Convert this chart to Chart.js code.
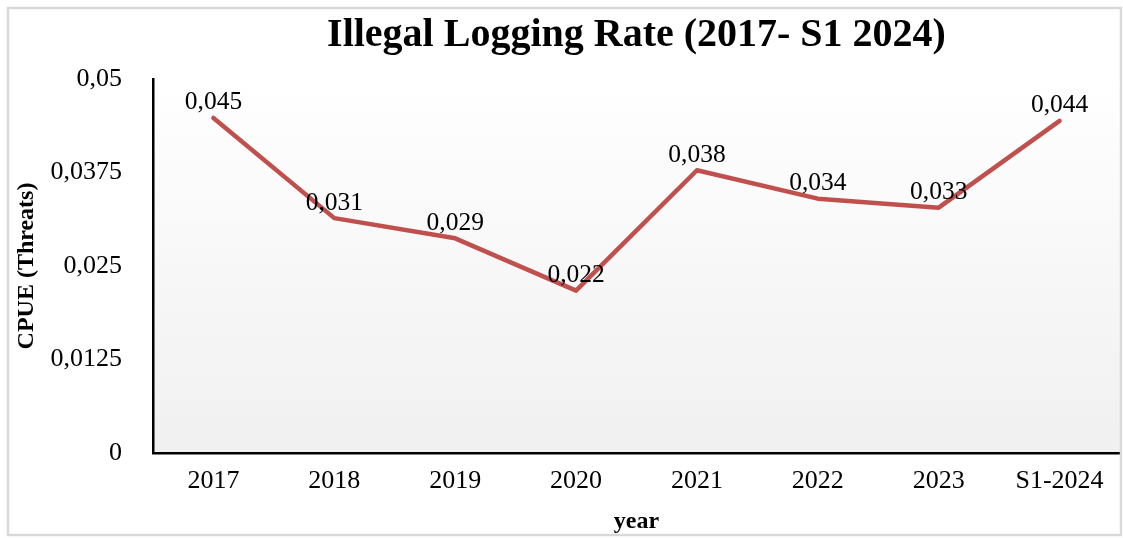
<!DOCTYPE html>
<html>
<head>
<meta charset="utf-8">
<script src="https://cdn.jsdelivr.net/npm/chart.js@4.4.0/dist/chart.umd.min.js"></script>
<style>
  html, body { margin: 0; padding: 0; background: #ffffff; }
  #wrap { position: relative; width: 1123px; height: 538px; }
</style>
</head>
<body>
<div id="wrap"><canvas id="c"></canvas></div>
<script>
// ---- data ----
const categories = ['2017', '2018', '2019', '2020', '2021', '2022', '2023', 'S1-2024'];
const cpueValues = [0.0448, 0.0314, 0.0287, 0.0217, 0.0378, 0.0340, 0.0328, 0.0444];
const yTickValues = [0, 0.0125, 0.025, 0.0375, 0.05];
const chartTitle = 'Illegal Logging Rate (2017- S1 2024)';
const xAxisTitle = 'year';
const yAxisTitle = 'CPUE (Threats)';

const FONT = "'Liberation Serif', 'Times New Roman', serif";

function commaNum(v, digits) {
  const s = digits === undefined ? String(Number(v.toFixed(6))) : v.toFixed(digits);
  return s.replace('.', ',');
}

const bgPlugin = {
  id: 'plotBg',
  beforeDraw(chart) {
    const { ctx, chartArea: a } = chart;
    const g = ctx.createLinearGradient(0, a.top, 0, a.bottom);
    g.addColorStop(0, '#ffffff');
    g.addColorStop(1, '#f0f0f0');
    ctx.save();
    ctx.fillStyle = g;
    ctx.fillRect(a.left, a.top, a.right - a.left, a.bottom - a.top);
    ctx.restore();
  },
  afterDraw(chart) {
    const ctx = chart.ctx;
    ctx.save();
    ctx.strokeStyle = '#d9d9d9';
    ctx.lineWidth = 2.5;
    ctx.strokeRect(8, 8, 1113, 527);
    ctx.restore();
  }
};

const labelPlugin = {
  id: 'pointLabels',
  afterDatasetsDraw(chart) {
    const { ctx } = chart;
    const meta = chart.getDatasetMeta(0);
    ctx.save();
    ctx.font = "25.5px " + FONT;
    ctx.fillStyle = '#000000';
    ctx.textAlign = 'center';
    ctx.textBaseline = 'alphabetic';
    meta.data.forEach((pt, i) => {
      ctx.fillText(commaNum(cpueValues[i], 3), pt.x, pt.y - 8.5);
    });
    ctx.restore();
  }
};

new Chart(document.getElementById('c'), {
  type: 'line',
  data: {
    labels: categories,
    datasets: [{
      data: cpueValues,
      borderColor: '#c0504d',
      borderWidth: 4.5,
      pointRadius: 0,
      pointHoverRadius: 0,
      fill: false,
      tension: 0,
      borderCapStyle: 'round',
      borderJoinStyle: 'round'
    }]
  },
  options: {
    responsive: true,
    maintainAspectRatio: false,
    animation: false,
    devicePixelRatio: 1,
    layout: { padding: { left: 10, right: 3, top: 0, bottom: 2 } },
    plugins: {
      legend: { display: false },
      tooltip: { enabled: false },
      title: {
        display: true,
        text: chartTitle,
        fullSize: false,
        color: '#000000',
        font: { family: FONT, size: 40, weight: 'bold' },
        padding: { top: 12, bottom: 19 }
      }
    },
    scales: {
      x: {
        type: 'category',
        offset: true,
        grid: { display: false, drawTicks: false },
        border: { display: true, color: '#000000', width: 2.5 },
        afterFit(scale) { scale.height = 83; },
        ticks: {
          color: '#000000',
          font: { family: FONT, size: 26 },
          padding: 13,
          maxRotation: 0,
          autoSkip: false
        },
        title: {
          display: true,
          text: xAxisTitle,
          color: '#000000',
          font: { family: FONT, size: 24, weight: 'bold' },
          padding: { top: 10, bottom: 0 }
        }
      },
      y: {
        min: 0,
        max: 0.05,
        grid: { display: false, drawTicks: false },
        border: { display: true, color: '#000000', width: 2.5 },
        afterBuildTicks(scale) {
          scale.ticks = yTickValues.map(v => ({ value: v }));
        },
        afterFit(scale) { scale.width = 143; },
        ticks: {
          color: '#000000',
          font: { family: FONT, size: 26 },
          padding: 31,
          callback: (v) => commaNum(v)
        },
        title: {
          display: true,
          text: yAxisTitle,
          color: '#000000',
          font: { family: FONT, size: 24, weight: 'bold' },
          padding: { top: 2, bottom: 12 }
        }
      }
    }
  },
  plugins: [bgPlugin, labelPlugin]
});
</script>
</body>
</html>
